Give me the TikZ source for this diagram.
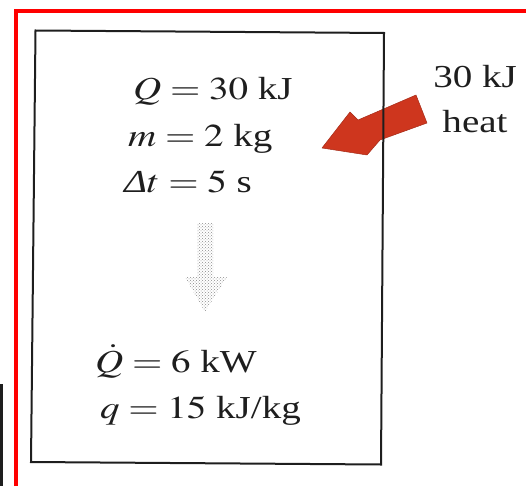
\documentclass[tikz,border=0pt]{standalone}
\usepackage{mathptmx}
\usepackage{fontspec}
\setmainfont{Liberation Serif}
\usepackage{graphicx}
\usetikzlibrary{patterns}
\definecolor{frame}{RGB}{255,0,0}
\definecolor{heatred}{RGB}{206,54,30}
\definecolor{ink}{RGB}{30,30,30}
\tikzset{
  eqn/.style={anchor=base west, inner sep=0pt, text=ink,
    font=\fontsize{32}{38}\selectfont},
  heatlabel/.style={eqn, anchor=base},
  heat arrow/.style={fill=heatred, draw=heatred!80!black, line width=0.5pt, line join=round},
  flow arrow/.style={pattern=crosshatch dots, pattern color=gray!90},
}
\newcommand{\wide}[1]{\scalebox{1.22}[1]{#1}}

\begin{document}
\begin{tikzpicture}[x=1pt, y=-1pt]
  \useasboundingbox (0,0) rectangle (526,486);
  % page frame
  \draw[frame, line width=4pt] (15.5,486) -- (15.5,11.5) -- (526,11.5);
  \draw[ink, line width=2.5pt] (1.5,384) -- (1.5,486);

  % heat going in, under the wall
  \fill[heat arrow] (322,148) -- (350,112) -- (358,120) -- (416,95)
    -- (427,123) -- (380,140) -- (367,155) -- cycle;
  % system
  \draw[ink, line width=2pt] (35.5,30.5) -- (384,33) -- (381,464.5) -- (31,462) -- cycle;

  \node[eqn] (Q)  at (133,100) {\wide{$Q = 30$ kJ}};
  \node[eqn] (M)  at (128,147) {\wide{$m = 2$ kg}};
  \node[eqn] (DT) at (124,193) {\wide{\textit{Δ}$t = 5$ s}};

  \fill[flow arrow] (197,223) -- (213,223) -- (213,277) -- (227,277)
    -- (205,312) -- (185,277) -- (197,277) -- cycle;

  \node[eqn] (QDOT) at (95,372)  {\wide{$\dot{Q} = 6$ kW}};
  \node[eqn] (QM)   at (100,418) {\wide{$q = 15$ kJ/kg}};

  \node[heatlabel] (KJ)   at (475,88)  {\wide{30 kJ}};
  \node[heatlabel] (HEAT) at (475,133) {\wide{heat}};
\end{tikzpicture}
\end{document}
